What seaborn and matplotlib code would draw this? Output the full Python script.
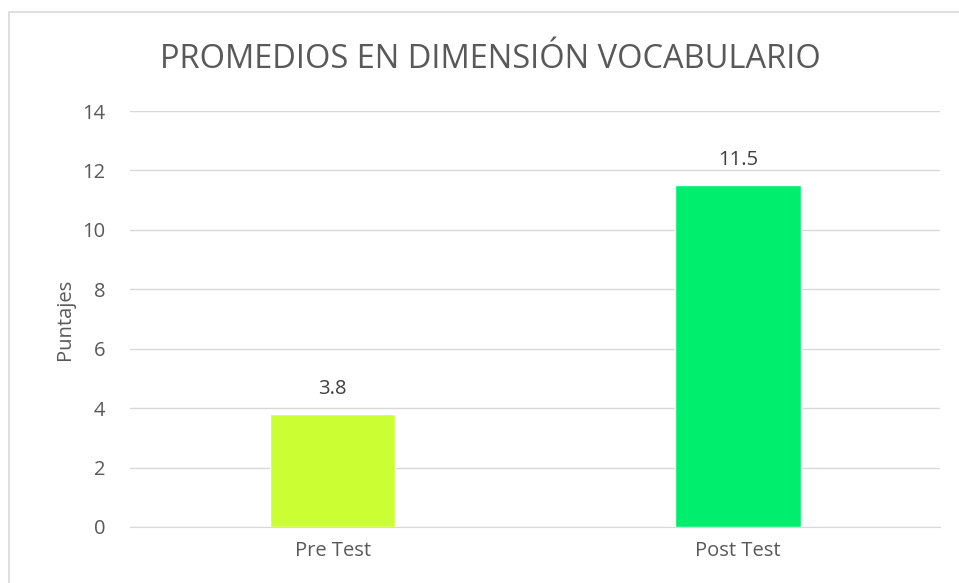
import matplotlib.pyplot as plt
import seaborn as sns
from matplotlib.patches import Rectangle

categories = ["Pre Test", "Post Test"]
values = [3.8, 11.5]
colors = ["#CCFF33", "#00EE6E"]
yticks = [0, 2, 4, 6, 8, 10, 12, 14]

sns.set_style("white")
plt.rcParams['font.family'] = ['Open Sans', 'DejaVu Sans']

fig = plt.figure(figsize=(9.59, 5.83), dpi=100)
ax = fig.add_axes([0.1356, 0.0961, 0.845, 0.7135])

sns.barplot(x=categories, y=values, hue=categories, palette=colors,
            saturation=1, width=0.31, legend=False, ax=ax, zorder=3)

ax.set_ylim(0, 14)
ax.set_yticks(yticks)
ax.grid(axis='y', color='#D9D9D9', linewidth=1, zorder=0)
for s in ['top', 'right', 'left']:
    ax.spines[s].set_visible(False)
ax.spines['bottom'].set_color('#D9D9D9')
ax.tick_params(axis='both', length=0, labelsize=14.5, labelcolor='#595959')
ax.tick_params(axis='y', pad=18)
ax.tick_params(axis='x', pad=10)

for i, v in enumerate(values):
    ax.text(i, v + 0.5, f"{v}", ha='center', va='bottom', fontsize=14.5, color='#404040')

ax.set_ylabel("Puntajes", fontsize=14.5, color='#595959', labelpad=5)
ax.set_xlabel("")

fig.text(0.511, 0.898, "PROMEDIOS EN DIMENSIÓN VOCABULARIO", ha='center', va='center',
         fontsize=23.5, color='#595959')

fig.patches.append(Rectangle((9 / 959, -0.1), 1.1, 1 - 12 / 583 + 0.1,
                             transform=fig.transFigure, fill=False,
                             edgecolor='#D9D9D9', linewidth=1.2))

fig.savefig("out.png", dpi=100)
